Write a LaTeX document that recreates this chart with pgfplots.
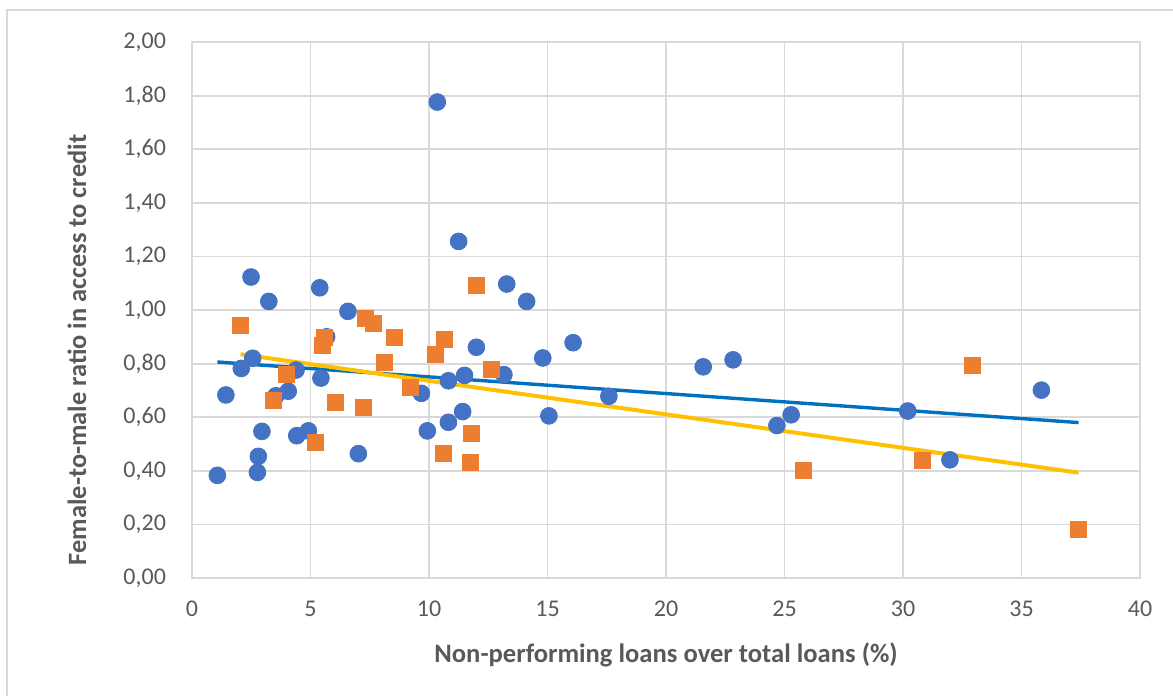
\documentclass[border=0pt]{standalone}
\usepackage{pgfplots}
\pgfplotsset{compat=1.18}
\usepackage{fontspec}
\setmainfont{Carlito}
\definecolor{ptblue}{HTML}{4472C4}
\definecolor{ptorange}{HTML}{ED7D31}
\definecolor{lnblue}{HTML}{0070C0}
\definecolor{lnyellow}{HTML}{FFC000}
\definecolor{gridgray}{HTML}{D9D9D9}
\definecolor{txtgray}{HTML}{595959}
\definecolor{framegray}{HTML}{D9D9D9}
\begin{document}
\begin{tikzpicture}
\useasboundingbox (0pt,0pt) rectangle (586.5pt,-348pt);
\draw[framegray, line width=0.9pt] (3.5pt,-348pt) -- (3.5pt,-5pt) -- (586.5pt,-5pt);
\begin{axis}[
  at={(96pt,-289pt)}, anchor=south west,
  scale only axis, width=474pt, height=268pt,
  xmin=0, xmax=40, ymin=0, ymax=2,
  xtick={0,5,...,40},
  ytick={0,0.2,...,2.01},
  grid=major,
  major grid style={gridgray, line width=0.9pt},
  axis line style={gridgray, line width=0.9pt},
  major tick length=0pt,
  tick label style={font=\fontsize{12}{14}\selectfont, text=txtgray},
  /pgf/number format/assume math mode=true,
  yticklabel style={/pgf/number format/fixed, /pgf/number format/fixed zerofill, /pgf/number format/precision=2, /pgf/number format/use comma, xshift=-9.5pt},
  xticklabel style={/pgf/number format/fixed, /pgf/number format/use comma, yshift=-8pt},
  xlabel={Non-performing loans over total loans (\%)},
  xlabel style={font=\bfseries\fontsize{13.3}{15}\selectfont, text=txtgray, at={(0.5,0)}, anchor=center, yshift=-38.5pt},
  clip=false,
]
\addplot[only marks, mark=*, mark size=4.2pt, mark options={fill=ptblue, draw=ptblue}] coordinates {
(1.07,0.383) (1.43,0.683) (2.08,0.782) (2.49,1.123) (2.56,0.820)
(2.76,0.394) (2.80,0.454) (2.95,0.547) (3.24,1.032) (3.54,0.680)
(4.06,0.697) (4.39,0.776) (4.42,0.531) (4.91,0.549) (5.39,1.083)
(5.44,0.746) (5.68,0.900) (6.58,0.995) (7.02,0.464) (9.68,0.689)
(9.93,0.549) (10.35,1.776) (10.82,0.736) (10.82,0.581) (11.25,1.256)
(11.42,0.621) (11.50,0.756) (12.00,0.861) (13.16,0.759) (13.28,1.097)
(14.12,1.032) (14.80,0.821) (15.06,0.605) (16.08,0.878) (17.59,0.678)
(21.57,0.788) (22.83,0.814) (24.68,0.569) (25.28,0.609) (30.20,0.623)
(31.98,0.441) (35.84,0.701)
};
\addplot[only marks, mark=square*, mark size=4pt, mark options={fill=ptorange, draw=ptorange}] coordinates {
(2.05,0.944) (3.42,0.662) (4.00,0.761) (5.20,0.505) (5.50,0.867)
(5.60,0.897) (6.06,0.654) (7.22,0.637) (7.33,0.969) (7.64,0.951)
(8.11,0.805) (8.55,0.898) (9.20,0.711) (10.28,0.835) (10.60,0.465)
(10.66,0.889) (11.73,0.430) (11.80,0.538) (11.98,1.091) (12.62,0.777)
(25.81,0.400) (30.82,0.438) (32.94,0.795) (37.41,0.180)
};
\addplot[lnblue, line width=1.7pt] coordinates {(1.07,0.806) (37.41,0.580)};
\addplot[lnyellow, line width=2pt] coordinates {(2.05,0.835) (37.41,0.393)};
\end{axis}
\node[rotate=90, font=\bfseries\fontsize{13.2}{15}\selectfont, text=txtgray] at (38.5pt,-175pt) {Female-to-male ratio in access to credit};
\end{tikzpicture}
\end{document}
